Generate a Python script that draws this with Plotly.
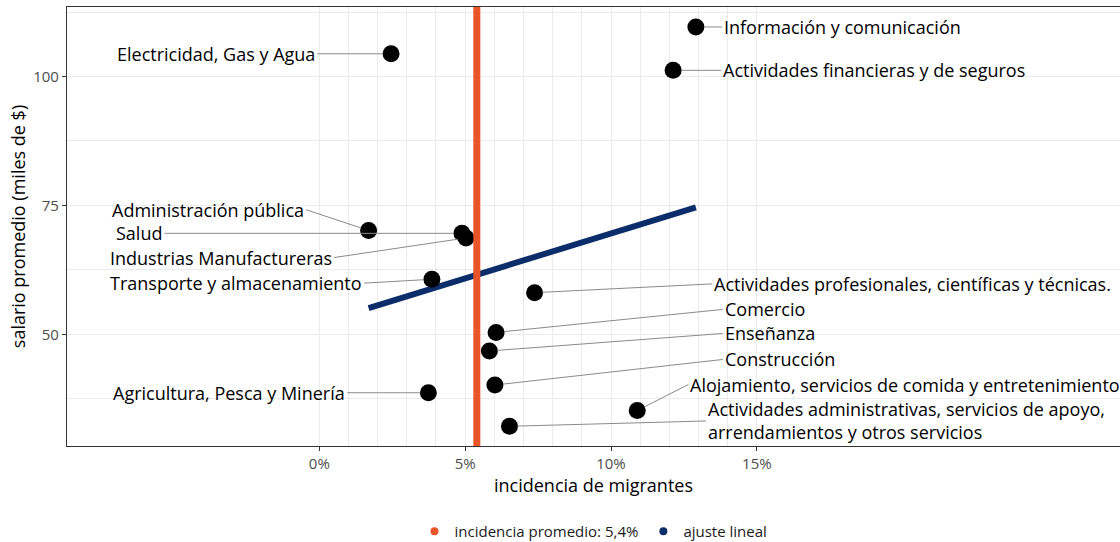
import plotly.graph_objects as go

# ---------------- data ----------------
sectors = [
    "Información y comunicación",
    "Electricidad, Gas y Agua",
    "Actividades financieras y de seguros",
    "Administración pública",
    "Salud",
    "Industrias Manufactureras",
    "Transporte y almacenamiento",
    "Actividades profesionales, científicas y técnicas.",
    "Comercio",
    "Enseñanza",
    "Construcción",
    "Agricultura, Pesca y Minería",
    "Alojamiento, servicios de comida y entretenimiento",
    "Actividades administrativas, servicios de apoyo,<br>arrendamientos y otros servicios",
]
incidence = [0.1291, 0.0246, 0.1213, 0.0169, 0.0489, 0.0503, 0.0386,
             0.0738, 0.0606, 0.0583, 0.0602, 0.0374, 0.1090, 0.0652]
salary = [109.6, 104.4, 101.2, 70.15, 69.6, 68.7, 60.7,
          58.1, 50.4, 46.8, 40.2, 38.7, 35.25, 32.2]

# label anchor positions (where each leader line starts), in data units
label_x = [0.1381, -0.0007, 0.1378, -0.0045, -0.0531, 0.0051, 0.0154,
           0.1347, 0.1383, 0.1383, 0.1383, 0.0096, 0.1265, 0.1326]
label_y = [109.6, 104.4, 101.2, 74.17, 69.6, 64.91, 59.94,
           59.8, 54.85, 50.19, 45.15, 38.7, 40.3, 33.23]
label_side = ["left", "right", "left", "right", "right", "right", "right",
              "left", "left", "left", "left", "right", "left", "left"]

avg_incidence = 0.054
avg_label = "incidencia promedio: 5,4%"
fit_x = [0.0169, 0.1291]
fit_y = [55.1, 74.65]
fit_label = "ajuste lineal"

x_ticks = [0, 0.05, 0.10, 0.15]
x_tick_text = ["0%", "5%", "10%", "15%"]
x_minor = [0.01, 0.02, 0.03, 0.04, 0.06, 0.07, 0.08, 0.09,
           0.11, 0.12, 0.13, 0.14]
y_ticks = [50, 75, 100]
y_minor = [37.5, 62.5, 87.5, 112.5]

# ---------------- styles ----------------
FONT = "Open Sans"
ORANGE = "#E95428"
NAVY = "#0B2E6B"
GRID = "#EBEBEB"

fig = go.Figure()

# linear fit line
fig.add_trace(go.Scatter(
    x=fit_x, y=fit_y, mode="lines",
    line=dict(color=NAVY, width=6),
    showlegend=False, hoverinfo="skip"))

# points
fig.add_trace(go.Scatter(
    x=incidence, y=salary, mode="markers",
    marker=dict(color="black", size=17),
    text=[s.replace("<br>", " ") for s in sectors],
    showlegend=False))

# legend entries (dots)
fig.add_trace(go.Scatter(
    x=[None], y=[None], mode="markers", name=avg_label,
    marker=dict(color=ORANGE, size=8)))
fig.add_trace(go.Scatter(
    x=[None], y=[None], mode="markers", name=fit_label,
    marker=dict(color=NAVY, size=8)))

# average incidence vertical line
fig.add_shape(type="line", xref="x", yref="paper",
              x0=avg_incidence, x1=avg_incidence, y0=0, y1=1,
              line=dict(color=ORANGE, width=7), layer="above")

# labels with leader lines
for name, px, py, lx, ly, side in zip(sectors, incidence, salary,
                                      label_x, label_y, label_side):
    fig.add_annotation(
        x=px, y=py, xref="x", yref="y",
        ax=lx, ay=ly, axref="x", ayref="y",
        text=name, showarrow=True, arrowhead=0,
        arrowwidth=1, arrowcolor="#8a8a8a", standoff=8,
        xanchor=side, yanchor="middle", align="left",
        font=dict(family=FONT, size=18, color="black"),
        borderpad=1)

fig.update_layout(
    width=1120, height=542,
    margin=dict(l=67, r=0, t=7, b=96, autoexpand=False),
    paper_bgcolor="white", plot_bgcolor="white",
    font=dict(family=FONT, color="black"),
    showlegend=True,
    legend=dict(orientation="h", x=0.5, xanchor="center",
                y=-0.195, yanchor="middle",
                font=dict(family=FONT, size=15, color="#1a1a1a")),
    xaxis=dict(
        range=[-0.0865, 0.2745], automargin=False,
        tickmode="array", tickvals=x_ticks, ticktext=x_tick_text,
        tickfont=dict(family=FONT, size=15, color="#4D4D4D"),
        ticks="outside", ticklen=4, tickcolor="#333333", tickwidth=1,
        showgrid=True, gridcolor=GRID, gridwidth=1.3,
        minor=dict(tickmode="array", tickvals=x_minor, showgrid=True,
                   gridcolor=GRID, gridwidth=0.8, ticks=""),
        zeroline=False,
        showline=True, mirror=True, linecolor="#333333", linewidth=1.2,
        title=dict(text="incidencia de migrantes", standoff=0,
                   font=dict(family=FONT, size=18, color="black")),
    ),
    yaxis=dict(
        range=[28.38, 113.47], automargin=False,
        tickmode="array", tickvals=y_ticks,
        tickfont=dict(family=FONT, size=15, color="#4D4D4D"),
        ticks="outside", ticklen=4, tickcolor="#333333", tickwidth=1,
        showgrid=True, gridcolor=GRID, gridwidth=1.3,
        minor=dict(tickmode="array", tickvals=y_minor, showgrid=True,
                   gridcolor=GRID, gridwidth=0.8, ticks=""),
        zeroline=False,
        showline=True, mirror=False, linecolor="#333333", linewidth=1.2,
        title=dict(text="salario promedio (miles de $)", standoff=2,
                   font=dict(family=FONT, size=18, color="black")),
    ),
)

fig.write_html("out.html",
               config={"displayModeBar": False},
               post_script="document.body.style.margin='0';"
                           "document.body.style.overflow='hidden';")
